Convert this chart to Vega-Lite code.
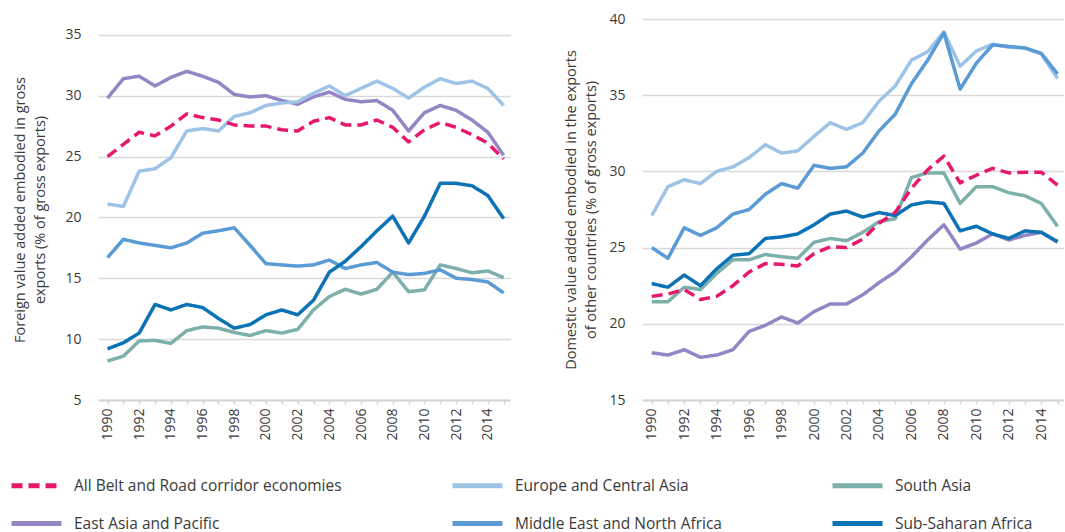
{
"$schema": "https://vega.github.io/schema/vega-lite/v6.json",
"padding": {"left": 9, "top": 12, "right": 0, "bottom": 0},
"background": "white",
"datasets": {
"foreign": [
{"series":"EAP","year":1990,"value":29.8},{"series":"EAP","year":1991,"value":31.4},{"series":"EAP","year":1992,"value":31.6},{"series":"EAP","year":1993,"value":30.8},{"series":"EAP","year":1994,"value":31.5},{"series":"EAP","year":1995,"value":32.0},{"series":"EAP","year":1996,"value":31.6},{"series":"EAP","year":1997,"value":31.1},{"series":"EAP","year":1998,"value":30.1},{"series":"EAP","year":1999,"value":29.9},{"series":"EAP","year":2000,"value":30.0},{"series":"EAP","year":2001,"value":29.6},{"series":"EAP","year":2002,"value":29.3},{"series":"EAP","year":2003,"value":29.9},{"series":"EAP","year":2004,"value":30.3},{"series":"EAP","year":2005,"value":29.7},{"series":"EAP","year":2006,"value":29.5},{"series":"EAP","year":2007,"value":29.6},{"series":"EAP","year":2008,"value":28.8},{"series":"EAP","year":2009,"value":27.1},{"series":"EAP","year":2010,"value":28.6},{"series":"EAP","year":2011,"value":29.2},{"series":"EAP","year":2012,"value":28.8},{"series":"EAP","year":2013,"value":28.0},{"series":"EAP","year":2014,"value":27.0},{"series":"EAP","year":2015,"value":25.1},
{"series":"ECA","year":1990,"value":21.1},{"series":"ECA","year":1991,"value":20.9},{"series":"ECA","year":1992,"value":23.8},{"series":"ECA","year":1993,"value":24.0},{"series":"ECA","year":1994,"value":24.9},{"series":"ECA","year":1995,"value":27.1},{"series":"ECA","year":1996,"value":27.3},{"series":"ECA","year":1997,"value":27.1},{"series":"ECA","year":1998,"value":28.3},{"series":"ECA","year":1999,"value":28.6},{"series":"ECA","year":2000,"value":29.2},{"series":"ECA","year":2001,"value":29.4},{"series":"ECA","year":2002,"value":29.5},{"series":"ECA","year":2003,"value":30.2},{"series":"ECA","year":2004,"value":30.8},{"series":"ECA","year":2005,"value":30.0},{"series":"ECA","year":2006,"value":30.6},{"series":"ECA","year":2007,"value":31.2},{"series":"ECA","year":2008,"value":30.6},{"series":"ECA","year":2009,"value":29.8},{"series":"ECA","year":2010,"value":30.7},{"series":"ECA","year":2011,"value":31.4},{"series":"ECA","year":2012,"value":31.0},{"series":"ECA","year":2013,"value":31.2},{"series":"ECA","year":2014,"value":30.6},{"series":"ECA","year":2015,"value":29.2},
{"series":"SA","year":1990,"value":8.2},{"series":"SA","year":1991,"value":8.6},{"series":"SA","year":1992,"value":9.85},{"series":"SA","year":1993,"value":9.9},{"series":"SA","year":1994,"value":9.65},{"series":"SA","year":1995,"value":10.7},{"series":"SA","year":1996,"value":11.0},{"series":"SA","year":1997,"value":10.9},{"series":"SA","year":1998,"value":10.55},{"series":"SA","year":1999,"value":10.3},{"series":"SA","year":2000,"value":10.7},{"series":"SA","year":2001,"value":10.5},{"series":"SA","year":2002,"value":10.8},{"series":"SA","year":2003,"value":12.4},{"series":"SA","year":2004,"value":13.5},{"series":"SA","year":2005,"value":14.1},{"series":"SA","year":2006,"value":13.7},{"series":"SA","year":2007,"value":14.1},{"series":"SA","year":2008,"value":15.5},{"series":"SA","year":2009,"value":13.9},{"series":"SA","year":2010,"value":14.05},{"series":"SA","year":2011,"value":16.1},{"series":"SA","year":2012,"value":15.8},{"series":"SA","year":2013,"value":15.45},{"series":"SA","year":2014,"value":15.6},{"series":"SA","year":2015,"value":15.05},
{"series":"MENA","year":1990,"value":16.7},{"series":"MENA","year":1991,"value":18.2},{"series":"MENA","year":1992,"value":17.9},{"series":"MENA","year":1993,"value":17.7},{"series":"MENA","year":1994,"value":17.5},{"series":"MENA","year":1995,"value":17.9},{"series":"MENA","year":1996,"value":18.7},{"series":"MENA","year":1997,"value":18.9},{"series":"MENA","year":1998,"value":19.15},{"series":"MENA","year":1999,"value":17.7},{"series":"MENA","year":2000,"value":16.2},{"series":"MENA","year":2001,"value":16.1},{"series":"MENA","year":2002,"value":16.0},{"series":"MENA","year":2003,"value":16.1},{"series":"MENA","year":2004,"value":16.5},{"series":"MENA","year":2005,"value":15.8},{"series":"MENA","year":2006,"value":16.1},{"series":"MENA","year":2007,"value":16.3},{"series":"MENA","year":2008,"value":15.5},{"series":"MENA","year":2009,"value":15.3},{"series":"MENA","year":2010,"value":15.4},{"series":"MENA","year":2011,"value":15.7},{"series":"MENA","year":2012,"value":15.0},{"series":"MENA","year":2013,"value":14.9},{"series":"MENA","year":2014,"value":14.7},{"series":"MENA","year":2015,"value":13.8},
{"series":"SSA","year":1990,"value":9.2},{"series":"SSA","year":1991,"value":9.7},{"series":"SSA","year":1992,"value":10.5},{"series":"SSA","year":1993,"value":12.85},{"series":"SSA","year":1994,"value":12.4},{"series":"SSA","year":1995,"value":12.85},{"series":"SSA","year":1996,"value":12.6},{"series":"SSA","year":1997,"value":11.7},{"series":"SSA","year":1998,"value":10.9},{"series":"SSA","year":1999,"value":11.2},{"series":"SSA","year":2000,"value":12.0},{"series":"SSA","year":2001,"value":12.4},{"series":"SSA","year":2002,"value":12.0},{"series":"SSA","year":2003,"value":13.2},{"series":"SSA","year":2004,"value":15.5},{"series":"SSA","year":2005,"value":16.4},{"series":"SSA","year":2006,"value":17.6},{"series":"SSA","year":2007,"value":18.9},{"series":"SSA","year":2008,"value":20.1},{"series":"SSA","year":2009,"value":17.9},{"series":"SSA","year":2010,"value":20.1},{"series":"SSA","year":2011,"value":22.8},{"series":"SSA","year":2012,"value":22.8},{"series":"SSA","year":2013,"value":22.6},{"series":"SSA","year":2014,"value":21.8},{"series":"SSA","year":2015,"value":19.9},
{"series":"BRI","year":1990,"value":25.0},{"series":"BRI","year":1991,"value":26.0},{"series":"BRI","year":1992,"value":27.0},{"series":"BRI","year":1993,"value":26.7},{"series":"BRI","year":1994,"value":27.5},{"series":"BRI","year":1995,"value":28.5},{"series":"BRI","year":1996,"value":28.2},{"series":"BRI","year":1997,"value":28.0},{"series":"BRI","year":1998,"value":27.6},{"series":"BRI","year":1999,"value":27.5},{"series":"BRI","year":2000,"value":27.5},{"series":"BRI","year":2001,"value":27.2},{"series":"BRI","year":2002,"value":27.1},{"series":"BRI","year":2003,"value":27.9},{"series":"BRI","year":2004,"value":28.2},{"series":"BRI","year":2005,"value":27.6},{"series":"BRI","year":2006,"value":27.6},{"series":"BRI","year":2007,"value":28.0},{"series":"BRI","year":2008,"value":27.4},{"series":"BRI","year":2009,"value":26.2},{"series":"BRI","year":2010,"value":27.2},{"series":"BRI","year":2011,"value":27.8},{"series":"BRI","year":2012,"value":27.4},{"series":"BRI","year":2013,"value":26.8},{"series":"BRI","year":2014,"value":26.1},{"series":"BRI","year":2015,"value":24.8}
],
"domestic": [
{"series":"EAP","year":1990,"value":18.1},{"series":"EAP","year":1991,"value":17.95},{"series":"EAP","year":1992,"value":18.3},{"series":"EAP","year":1993,"value":17.8},{"series":"EAP","year":1994,"value":17.95},{"series":"EAP","year":1995,"value":18.3},{"series":"EAP","year":1996,"value":19.5},{"series":"EAP","year":1997,"value":19.9},{"series":"EAP","year":1998,"value":20.45},{"series":"EAP","year":1999,"value":20.05},{"series":"EAP","year":2000,"value":20.8},{"series":"EAP","year":2001,"value":21.3},{"series":"EAP","year":2002,"value":21.3},{"series":"EAP","year":2003,"value":21.9},{"series":"EAP","year":2004,"value":22.7},{"series":"EAP","year":2005,"value":23.4},{"series":"EAP","year":2006,"value":24.4},{"series":"EAP","year":2007,"value":25.5},{"series":"EAP","year":2008,"value":26.5},{"series":"EAP","year":2009,"value":24.9},{"series":"EAP","year":2010,"value":25.3},{"series":"EAP","year":2011,"value":25.9},{"series":"EAP","year":2012,"value":25.5},{"series":"EAP","year":2013,"value":25.8},{"series":"EAP","year":2014,"value":26.0},{"series":"EAP","year":2015,"value":25.35},
{"series":"ECA","year":1990,"value":27.1},{"series":"ECA","year":1991,"value":29.0},{"series":"ECA","year":1992,"value":29.45},{"series":"ECA","year":1993,"value":29.2},{"series":"ECA","year":1994,"value":30.0},{"series":"ECA","year":1995,"value":30.3},{"series":"ECA","year":1996,"value":30.9},{"series":"ECA","year":1997,"value":31.75},{"series":"ECA","year":1998,"value":31.2},{"series":"ECA","year":1999,"value":31.35},{"series":"ECA","year":2000,"value":32.3},{"series":"ECA","year":2001,"value":33.2},{"series":"ECA","year":2002,"value":32.75},{"series":"ECA","year":2003,"value":33.2},{"series":"ECA","year":2004,"value":34.6},{"series":"ECA","year":2005,"value":35.6},{"series":"ECA","year":2006,"value":37.3},{"series":"ECA","year":2007,"value":37.85},{"series":"ECA","year":2008,"value":39.15},{"series":"ECA","year":2009,"value":36.9},{"series":"ECA","year":2010,"value":37.9},{"series":"ECA","year":2011,"value":38.35},{"series":"ECA","year":2012,"value":38.15},{"series":"ECA","year":2013,"value":38.1},{"series":"ECA","year":2014,"value":37.7},{"series":"ECA","year":2015,"value":36.1},
{"series":"SA","year":1990,"value":21.45},{"series":"SA","year":1991,"value":21.45},{"series":"SA","year":1992,"value":22.4},{"series":"SA","year":1993,"value":22.25},{"series":"SA","year":1994,"value":23.3},{"series":"SA","year":1995,"value":24.2},{"series":"SA","year":1996,"value":24.2},{"series":"SA","year":1997,"value":24.55},{"series":"SA","year":1998,"value":24.4},{"series":"SA","year":1999,"value":24.3},{"series":"SA","year":2000,"value":25.35},{"series":"SA","year":2001,"value":25.6},{"series":"SA","year":2002,"value":25.45},{"series":"SA","year":2003,"value":26.0},{"series":"SA","year":2004,"value":26.7},{"series":"SA","year":2005,"value":26.9},{"series":"SA","year":2006,"value":29.6},{"series":"SA","year":2007,"value":29.9},{"series":"SA","year":2008,"value":29.9},{"series":"SA","year":2009,"value":27.9},{"series":"SA","year":2010,"value":29.0},{"series":"SA","year":2011,"value":29.0},{"series":"SA","year":2012,"value":28.6},{"series":"SA","year":2013,"value":28.4},{"series":"SA","year":2014,"value":27.9},{"series":"SA","year":2015,"value":26.4},
{"series":"MENA","year":1990,"value":25.0},{"series":"MENA","year":1991,"value":24.3},{"series":"MENA","year":1992,"value":26.3},{"series":"MENA","year":1993,"value":25.8},{"series":"MENA","year":1994,"value":26.3},{"series":"MENA","year":1995,"value":27.2},{"series":"MENA","year":1996,"value":27.5},{"series":"MENA","year":1997,"value":28.5},{"series":"MENA","year":1998,"value":29.2},{"series":"MENA","year":1999,"value":28.9},{"series":"MENA","year":2000,"value":30.4},{"series":"MENA","year":2001,"value":30.2},{"series":"MENA","year":2002,"value":30.3},{"series":"MENA","year":2003,"value":31.2},{"series":"MENA","year":2004,"value":32.65},{"series":"MENA","year":2005,"value":33.75},{"series":"MENA","year":2006,"value":35.75},{"series":"MENA","year":2007,"value":37.3},{"series":"MENA","year":2008,"value":39.1},{"series":"MENA","year":2009,"value":35.4},{"series":"MENA","year":2010,"value":37.1},{"series":"MENA","year":2011,"value":38.3},{"series":"MENA","year":2012,"value":38.2},{"series":"MENA","year":2013,"value":38.1},{"series":"MENA","year":2014,"value":37.75},{"series":"MENA","year":2015,"value":36.4},
{"series":"SSA","year":1990,"value":22.64},{"series":"SSA","year":1991,"value":22.4},{"series":"SSA","year":1992,"value":23.2},{"series":"SSA","year":1993,"value":22.5},{"series":"SSA","year":1994,"value":23.6},{"series":"SSA","year":1995,"value":24.5},{"series":"SSA","year":1996,"value":24.6},{"series":"SSA","year":1997,"value":25.6},{"series":"SSA","year":1998,"value":25.7},{"series":"SSA","year":1999,"value":25.9},{"series":"SSA","year":2000,"value":26.5},{"series":"SSA","year":2001,"value":27.2},{"series":"SSA","year":2002,"value":27.4},{"series":"SSA","year":2003,"value":27.0},{"series":"SSA","year":2004,"value":27.3},{"series":"SSA","year":2005,"value":27.1},{"series":"SSA","year":2006,"value":27.8},{"series":"SSA","year":2007,"value":28.0},{"series":"SSA","year":2008,"value":27.9},{"series":"SSA","year":2009,"value":26.1},{"series":"SSA","year":2010,"value":26.4},{"series":"SSA","year":2011,"value":25.9},{"series":"SSA","year":2012,"value":25.6},{"series":"SSA","year":2013,"value":26.1},{"series":"SSA","year":2014,"value":26.0},{"series":"SSA","year":2015,"value":25.4},
{"series":"BRI","year":1990,"value":21.8},{"series":"BRI","year":1991,"value":21.95},{"series":"BRI","year":1992,"value":22.25},{"series":"BRI","year":1993,"value":21.6},{"series":"BRI","year":1994,"value":21.8},{"series":"BRI","year":1995,"value":22.5},{"series":"BRI","year":1996,"value":23.4},{"series":"BRI","year":1997,"value":23.95},{"series":"BRI","year":1998,"value":23.9},{"series":"BRI","year":1999,"value":23.8},{"series":"BRI","year":2000,"value":24.6},{"series":"BRI","year":2001,"value":25.05},{"series":"BRI","year":2002,"value":25.0},{"series":"BRI","year":2003,"value":25.55},{"series":"BRI","year":2004,"value":26.6},{"series":"BRI","year":2005,"value":27.3},{"series":"BRI","year":2006,"value":28.9},{"series":"BRI","year":2007,"value":30.1},{"series":"BRI","year":2008,"value":31.0},{"series":"BRI","year":2009,"value":29.25},{"series":"BRI","year":2010,"value":29.75},{"series":"BRI","year":2011,"value":30.2},{"series":"BRI","year":2012,"value":29.9},{"series":"BRI","year":2013,"value":29.95},{"series":"BRI","year":2014,"value":29.95},{"series":"BRI","year":2015,"value":29.1}
]
},
"spacing": 53,
"hconcat": [
{
"data": {"name": "foreign"},
"width": 412,
"height": 381,
"mark": {"type": "line", "strokeWidth": 3.5, "strokeJoin": "round"},
"encoding": {
"x": {"field": "year", "type": "quantitative",
"scale": {"domain": [1989.4, 2015.4], "nice": false, "zero": false},
"axis": {"values": [1990,1991,1992,1993,1994,1995,1996,1997,1998,1999,2000,2001,2002,2003,2004,2005,2006,2007,2008,2009,2010,2011,2012,2013,2014,2015],
"labelExpr": "datum.value % 2 == 0 && datum.value < 2015 ? '' + datum.value : ''", "title": null}},
"y": {"field": "value", "type": "quantitative",
"scale": {"domain": [5, 36.3], "nice": false, "zero": false},
"axis": {"values": [5,10,15,20,25,30,35], "titlePadding": 17, "title": ["Foreign value added embodied in gross", "exports (% of gross exports)"]}},
"color": {"field": "series", "type": "nominal",
"scale": {"domain": ["BRI","EAP","ECA","MENA","SA","SSA"], "range": ["#e6186c","#9486c4","#9dc3e6","#5b9bd5","#7db0aa","#0b72b5"]},
"legend": {"title": null, "orient": "none", "legendX": -89, "legendY": 439, "columns": 3,
"labelExpr": "datum.label == 'BRI' ? 'All Belt and Road corridor economies' : datum.label == 'ECA' ? 'Europe and Central Asia' : datum.label == 'SA' ? 'South Asia' : datum.label == 'EAP' ? 'East Asia and Pacific' : datum.label == 'MENA' ? 'Middle East and North Africa' : 'Sub-Saharan Africa'"}},
"strokeDash": {"field": "series", "type": "nominal",
"scale": {"domain": ["BRI","EAP","ECA","MENA","SA","SSA"], "range": [[11,6],[1,0],[1,0],[1,0],[1,0],[1,0]]},
"legend": {"title": null, "orient": "none", "legendX": -89, "legendY": 439, "columns": 3,
"labelExpr": "datum.label == 'BRI' ? 'All Belt and Road corridor economies' : datum.label == 'ECA' ? 'Europe and Central Asia' : datum.label == 'SA' ? 'South Asia' : datum.label == 'EAP' ? 'East Asia and Pacific' : datum.label == 'MENA' ? 'Middle East and North Africa' : 'Sub-Saharan Africa'"}},
"strokeWidth": {"condition": {"test": "datum.series == 'BRI'", "value": 4.5}, "value": 3.5}
}
},
{
"data": {"name": "domestic"},
"width": 422,
"height": 381,
"mark": {"type": "line", "strokeWidth": 3.5, "strokeJoin": "round"},
"encoding": {
"x": {"field": "year", "type": "quantitative",
"scale": {"domain": [1989.4, 2015.4], "nice": false, "zero": false},
"axis": {"values": [1990,1991,1992,1993,1994,1995,1996,1997,1998,1999,2000,2001,2002,2003,2004,2005,2006,2007,2008,2009,2010,2011,2012,2013,2014,2015],
"labelExpr": "datum.value % 2 == 0 && datum.value < 2015 ? '' + datum.value : ''", "title": null}},
"y": {"field": "value", "type": "quantitative",
"scale": {"domain": [15, 40], "nice": false, "zero": false},
"axis": {"values": [15,20,25,30,35,40], "title": ["Domestic value added embodied in the exports", "of other countries (% of gross exports)"]}},
"color": {"field": "series", "type": "nominal",
"scale": {"domain": ["BRI","EAP","ECA","MENA","SA","SSA"], "range": ["#e6186c","#9486c4","#9dc3e6","#5b9bd5","#7db0aa","#0b72b5"]},
"legend": {"title": null, "orient": "none", "legendX": -89, "legendY": 439, "columns": 3,
"labelExpr": "datum.label == 'BRI' ? 'All Belt and Road corridor economies' : datum.label == 'ECA' ? 'Europe and Central Asia' : datum.label == 'SA' ? 'South Asia' : datum.label == 'EAP' ? 'East Asia and Pacific' : datum.label == 'MENA' ? 'Middle East and North Africa' : 'Sub-Saharan Africa'"}},
"strokeDash": {"field": "series", "type": "nominal",
"scale": {"domain": ["BRI","EAP","ECA","MENA","SA","SSA"], "range": [[11,6],[1,0],[1,0],[1,0],[1,0],[1,0]]},
"legend": {"title": null, "orient": "none", "legendX": -89, "legendY": 439, "columns": 3,
"labelExpr": "datum.label == 'BRI' ? 'All Belt and Road corridor economies' : datum.label == 'ECA' ? 'Europe and Central Asia' : datum.label == 'SA' ? 'South Asia' : datum.label == 'EAP' ? 'East Asia and Pacific' : datum.label == 'MENA' ? 'Middle East and North Africa' : 'Sub-Saharan Africa'"}},
"strokeWidth": {"condition": {"test": "datum.series == 'BRI'", "value": 4.5}, "value": 3.5}
}
}
],
"config": {
"view": {"stroke": null},
"font": "Open Sans",
"axis": {"labelFont": "Open Sans", "labelFontSize": 14, "labelColor": "#3a3a3a", "titleFont": "Open Sans", "titleFontSize": 14.5, "titleFontWeight": "normal", "titleColor": "#3a3a3a"},
"axisY": {"grid": true, "gridColor": "#d9d9d9", "gridWidth": 1.5, "domain": false, "ticks": false, "labelPadding": 17, "titlePadding": 10, "titleLineHeight": 20},
"axisX": {"grid": false, "domainColor": "#d4d4d4", "domainWidth": 2, "tickColor": "#d4d4d4", "tickSize": 4, "tickWidth": 1.5, "labelAngle": -90, "labelPadding": 4},
"legend": {"symbolType": "stroke", "symbolSize": 2500, "symbolStrokeWidth": 5, "labelFont": "Open Sans", "labelFontSize": 15.5, "labelColor": "#3a3a3a", "labelLimit": 400, "labelOffset": 10, "columnPadding": 100, "rowPadding": 0}
}
}
